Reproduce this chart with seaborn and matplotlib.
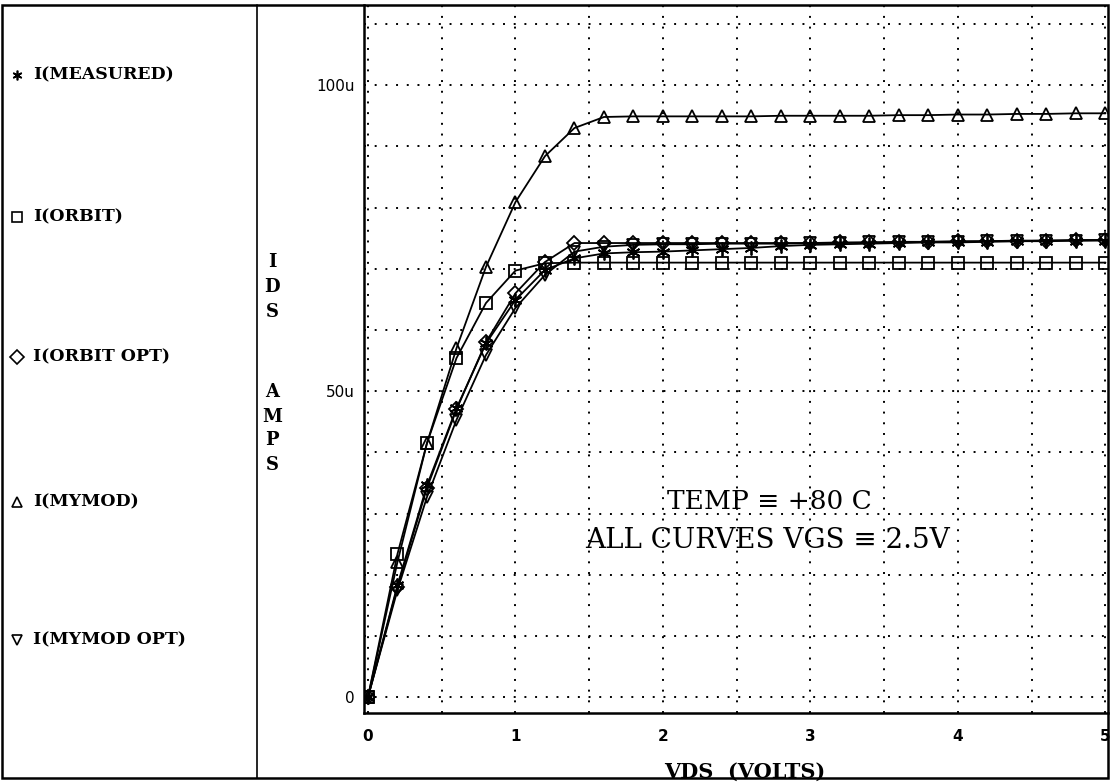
import matplotlib
matplotlib.use("Agg")
import matplotlib.pyplot as plt
import seaborn as sns
import pandas as pd
from matplotlib.lines import Line2D
from matplotlib.patches import Rectangle

# data (IDS in uA)
vds = [0.0, 0.2, 0.4, 0.6, 0.8, 1.0, 1.2, 1.4, 1.6, 1.8, 2.0, 2.2, 2.4,
       2.6, 2.8, 3.0, 3.2, 3.4, 3.6, 3.8, 4.0, 4.2, 4.4, 4.6, 4.8, 5.0]
i_measured = [0, 18.3, 34.6, 47.2, 57.8, 64.9, 69.8, 71.7, 72.5, 72.7, 72.8, 73.0, 73.2,
              73.4, 73.7, 73.9, 74.0, 74.1, 74.2, 74.3, 74.3, 74.4, 74.5, 74.5, 74.6, 74.6]
i_orbit = [0, 23.4, 41.5, 55.4, 64.4, 69.7, 70.9, 71.0, 71.0, 71.0, 71.0, 71.0, 71.0,
           71.0, 71.0, 71.0, 71.0, 71.0, 71.0, 71.0, 71.0, 71.0, 71.0, 71.0, 71.0, 71.0]
i_orbit_opt = [0, 18.0, 34.2, 47.0, 58.0, 66.0, 71.1, 74.2, 74.2, 74.2, 74.2, 74.2, 74.2,
               74.2, 74.2, 74.2, 74.3, 74.3, 74.4, 74.4, 74.5, 74.5, 74.6, 74.6, 74.7, 74.7]
i_mymod = [0, 22.1, 41.5, 57.0, 70.3, 80.9, 88.4, 93.0, 94.8, 94.9, 94.9, 94.9, 94.9,
           94.9, 95.0, 95.0, 95.0, 95.0, 95.1, 95.1, 95.2, 95.2, 95.3, 95.3, 95.4, 95.4]
i_mymod_opt = [0, 17.5, 32.7, 45.3, 55.9, 63.6, 69.0, 72.8, 73.6, 73.9, 74.0, 74.0, 74.1,
               74.1, 74.1, 74.2, 74.2, 74.3, 74.3, 74.4, 74.4, 74.5, 74.5, 74.6, 74.6, 74.7]

labels = ["I(MEASURED)", "I(ORBIT)", "I(ORBIT OPT)", "I(MYMOD)", "I(MYMOD OPT)"]
series = [i_measured, i_orbit, i_orbit_opt, i_mymod, i_mymod_opt]
markers = [(6, 2, 0), "s", "D", "^", "v"]
msizes = [10, 8, 7, 8, 8]

sns.set_style("white")
plt.rcParams["font.family"] = ["DejaVu Sans"]
plt.rcParams["text.color"] = "black"
plt.rcParams["xtick.color"] = "black"
plt.rcParams["ytick.color"] = "black"

fig = plt.figure(figsize=(11.1, 7.82), dpi=100)
ax = fig.add_axes([364 / 1110, 1 - 713 / 782, (1108 - 364) / 1110, (713 - 5) / 782])

for lab, vals, mk, ms in zip(labels, series, markers, msizes):
    df = pd.DataFrame({"VDS": vds, "IDS": vals})
    sns.lineplot(data=df, x="VDS", y="IDS", ax=ax, color="black", linewidth=1.3,
                 marker=mk, markersize=ms, markerfacecolor="none",
                 markeredgecolor="black", markeredgewidth=1.3)

ax.set_xlim(-0.027, 5.017)
ax.set_ylim(-2.6, 113.1)

ax.set_xticks([0, 1, 2, 3, 4, 5])
ax.set_xticklabels(["0", "1", "2", "3", "4", "5"], fontsize=11, fontweight="bold")
ax.set_xticks([0.5, 1.5, 2.5, 3.5, 4.5], minor=True)
ax.set_yticks([0, 50, 100])
ax.set_yticklabels(["0", "50u", "100u"], fontsize=11)
ax.set_yticks([10, 20, 30, 40, 60, 70, 80, 90, 110], minor=True)
ax.tick_params(which="both", direction="inout", length=7, width=1.2, color="black")
ax.tick_params(axis="x", pad=8)
ax.tick_params(axis="y", pad=3)

ax.grid(which="both", color="black", linestyle=(0, (1, 4.5)), linewidth=1.4)
ax.set_axisbelow(True)

for s in ["top", "right"]:
    ax.spines[s].set_visible(False)
for s in ["left", "bottom"]:
    ax.spines[s].set_color("black")
    ax.spines[s].set_linewidth(1.8)

ax.set_xlabel("")
ax.set_ylabel("")

serif = ["DejaVu Serif"]
ax.text(2.72, 31.9, "TEMP \u2261 +80 C", ha="center", va="center",
        fontsize=19, family=serif)
ax.text(2.71, 25.6, "ALL CURVES VGS \u2261 2.5V", ha="center", va="center",
        fontsize=20, family=serif)

fig.text(745 / 1110, 1 - 772 / 782, "VDS  (VOLTS)", ha="center", va="center",
         fontsize=15, fontweight="bold", family=serif)

# vertical y label, one letter per row
for ch, yp in zip("IDSAMPS", [262, 287, 312, 392, 417, 440, 465]):
    fig.text(272 / 1110, 1 - yp / 782, ch, ha="center", va="center",
             fontsize=13, fontweight="bold", family=serif)

# legend panel on the left
for lab, mk, yp in zip(labels, markers, [75, 217, 357, 502, 640]):
    fig.add_artist(Line2D([17 / 1110], [1 - yp / 782], transform=fig.transFigure,
                          marker=mk, markersize=7, markerfacecolor="none",
                          markeredgecolor="black", markeredgewidth=1.2, linestyle="none"))
    fig.text(33 / 1110, 1 - yp / 782, lab, ha="left", va="center",
             fontsize=12.5, fontweight="bold", family=serif)

# frame around everything and separator
fig.add_artist(Rectangle((0.002, 0.005), 0.996, 0.9886, transform=fig.transFigure,
                         fill=False, edgecolor="black", linewidth=1.8))
fig.add_artist(Line2D([257 / 1110, 257 / 1110], [0.005, 0.9936], transform=fig.transFigure,
                      color="black", linewidth=1.2))

fig.savefig("out.png", dpi=100)
